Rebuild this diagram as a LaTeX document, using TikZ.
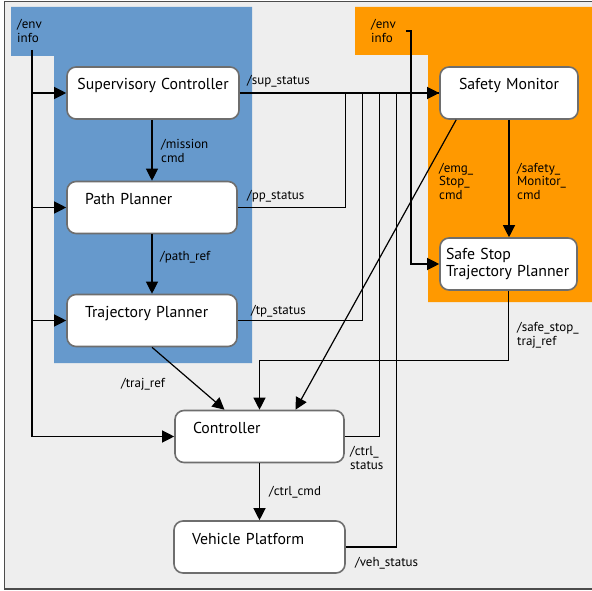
\documentclass[tikz,border=0pt]{standalone}
\usepackage{fontspec}
\setmainfont{PT Sans}
\usetikzlibrary{arrows.meta,positioning,calc}
\definecolor{plannerblue}{RGB}{102,153,204}
\definecolor{safetyorange}{RGB}{255,153,0}
\definecolor{framegray}{RGB}{238,238,238}
\definecolor{boxgray}{RGB}{110,110,110}

\begin{document}
\begin{tikzpicture}[
    x=1pt, y=-1pt,
    >={Triangle[length=12pt,width=12pt]},
    box/.style={draw=boxgray, fill=white, line width=1.6pt, rounded corners=9pt, minimum height=52pt, font=\fontsize{15.8}{17}\selectfont},
    block/.style={box, inner ysep=0pt, text height=23pt, text depth=29pt, inner xsep=18pt, text width=#1, align=left},
    cblock/.style={box, inner ysep=0pt, text height=23pt, text depth=29pt, inner xsep=4pt, text width=#1, align=center},
    topic/.style={font=\fontsize{13}{13.5}\selectfont, align=left, inner sep=0pt, anchor=west},
    line/.style={line width=1.2pt}
]

% Frame and groups
\useasboundingbox (0,0) rectangle (592,591);
\clip (0,0) rectangle (592,591);
\draw[fill=framegray, draw=black!70, line width=1.8pt] (4.5,1.5) rectangle (610,589);
\fill[plannerblue] (11,7) -- (252,7) -- (252,363) -- (54,363) -- (54,56) -- (11,56) -- cycle;
\fill[safetyorange] (355,7) -- (610,7) -- (610,302) -- (428,302) -- (428,55) -- (355,55) -- cycle;

% Planning stack
\node[cblock=164pt] (sup) at (153,93) {Supervisory Controller};
\node[block=134pt] (pp) at (152,207.5) {Path Planner};
\node[block=134pt] (tp) at (152,320.5) {Trajectory Planner};

% Safety stack
\node[cblock=130pt] (sm) at (509,93) {Safety Monitor};
\node[box, inner xsep=6pt, text width=125pt, align=left] (ss) at (508.5,264) {Safe Stop\\Trajectory Planner};

% Control and vehicle
\node[block=133pt] (ctrl) at (259.5,436.5) {Controller};
\node[block=135pt] (vp) at (259.5,547) {Vehicle Platform};

% Env inputs
\node[topic] (envL) at (17,31) {/env\\info};
\node[topic] (envR) at (371,31) {/env\\info};
\coordinate (envbus) at (32,50);
\coordinate (envdrop) at (411,31);

% Topic labels
\node[topic] (lmission) at (161,151) {/mission\\cmd};
\node[topic] (lpathref) at (160,257) {/path\_ref};
\node[topic] (ltrajref) at (121,384) {/traj\_ref};
\node[topic] (lsup) at (247,81) {/sup\_status};
\node[topic] (lpp) at (247,196) {/pp\_status};
\node[topic] (ltp) at (251,311) {/tp\_status};
\node[topic] (lemg) at (439,181) {/emg\_\\Stop\_\\cmd};
\node[topic] (lsmcmd) at (517,181) {/safety\_\\Monitor\_\\cmd};
\node[topic] (lssref) at (517,335) {/safe\_stop\_\\traj\_ref};
\node[topic] (lctrlst) at (350,458) {/ctrl\_\\status};
\node[topic] (lctrlcmd) at (269,492) {/ctrl\_cmd};
\node[topic] (lveh) at (355,563) {/veh\_status};

% Env connections
\draw[line,->] (envbus) |- (ctrl.west);
\draw[line,->] (envbus |- sup.west) -- (sup.west);
\draw[line,->] (envbus |- pp.west) -- (pp.west);
\draw[line,->] (envbus |- tp.west) -- (tp.west);
\draw[line,->] ([xshift=10pt]envR.east) -- (envdrop) |- (ss.west);

% Command chain
\draw[line,->] (pp.north |- sup.south) -- (pp.north);
\draw[line,->] (pp) -- (tp);
\draw[line,->] (tp.south) -- ([xshift=-35pt]ctrl.north);
\draw[line,->] (ss.south) -- ++(0,70) -| (ctrl.north);
\draw[line,->] ([xshift=17pt]sm.south west) -- ([xshift=36pt]ctrl.north);
\draw[line,->] (sm.south) -- (sm.south |- ss.north);
\draw[line,->] (ctrl) -- (vp);

% Status bus
\draw[line,->] (sup.east) -- (sm.west);
\draw[line] (pp.east) -- ++(108,0) |- (sm.west);
\draw[line] (tp.east) -- ++(125,0) |- (sm.west);
\draw[line] (ctrl.east) -- ++(35,0) |- (sm.west);
\draw[line] (vp.east) -- ++(51,0) |- (sm.west);

\end{tikzpicture}
\end{document}
